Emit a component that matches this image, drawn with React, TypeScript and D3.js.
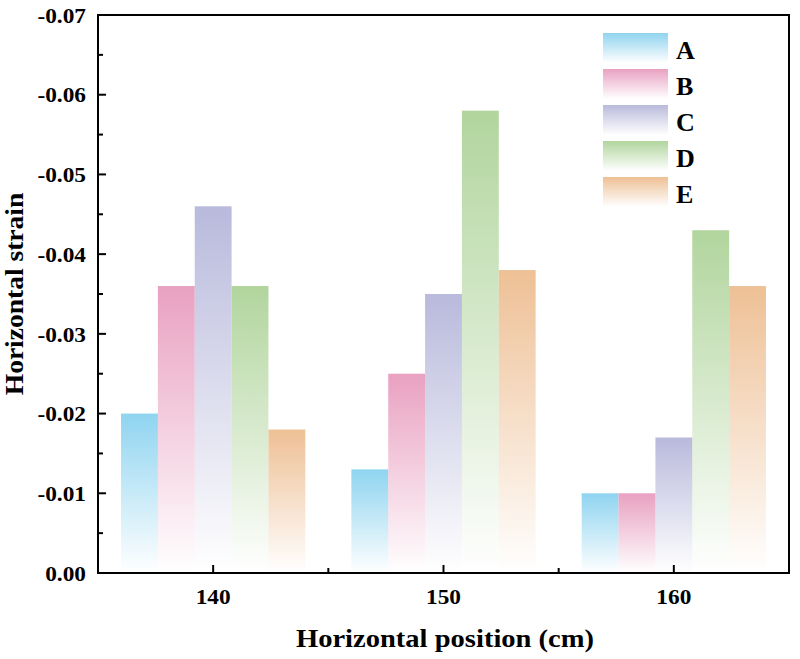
import React from "react";
import * as d3 from "d3";

const categories = [140, 150, 160];
const seriesNames = ["A", "B", "C", "D", "E"];
const seriesA = [-0.020, -0.013, -0.010];
const seriesB = [-0.036, -0.025, -0.010];
const seriesC = [-0.046, -0.035, -0.017];
const seriesD = [-0.036, -0.058, -0.043];
const seriesE = [-0.018, -0.038, -0.036];
const seriesValues = [seriesA, seriesB, seriesC, seriesD, seriesE];
const colors = ["#8fd4f0", "#e9a1c1", "#b9badc", "#b1d59d", "#eec095"];
const yTicks = [0, -0.01, -0.02, -0.03, -0.04, -0.05, -0.06, -0.07];
const yMinor = [-0.005, -0.015, -0.025, -0.035, -0.045, -0.055, -0.065];
const xMinor = [145, 155];

const W = 800, H = 659;
const left = 98, right = 789, top = 15, bottom = 573;
const barW = 1.6;
const FONT = "'Liberation Serif', 'Times New Roman', serif";
const locale = d3.formatLocale({ decimal: ".", thousands: ",", grouping: [3], currency: ["", ""], minus: "-" });
const fmt = locale.format(".2f");

export default function App() {
  const x = d3.scaleLinear().domain([135, 165]).range([left, right]);
  const y = d3.scaleLinear().domain([0, -0.07]).range([bottom, top]);

  return (
    <svg width={W} height={H} style={{ position: "absolute", left: 0, top: 0 }}>
      <defs>
        {colors.map((c, i) => (
          <linearGradient key={i} id={`g${i}`} x1="0" y1="0" x2="0" y2="1">
            <stop offset="0" stopColor={c} stopOpacity={1} />
            <stop offset="1" stopColor={c} stopOpacity={0} />
          </linearGradient>
        ))}
      </defs>
      <rect x={0} y={0} width={W} height={H} fill="white" />
      {categories.map((cat, ci) =>
        seriesValues.map((vals, si) => {
          const x0 = cat - (barW * seriesNames.length) / 2 + si * barW;
          const xs = x(x0);
          const xe = x(x0 + barW);
          const yt = y(vals[ci]);
          return (
            <rect key={`${ci}-${si}`} x={xs} y={yt} width={xe - xs} height={y(0) - yt} fill={`url(#g${si})`} />
          );
        })
      )}
      <rect x={left} y={top} width={right - left} height={bottom - top} fill="none" stroke="black" strokeWidth={2} />
      {yTicks.map((t) => (
        <g key={t}>
          <line x1={left} x2={left + 8} y1={y(t)} y2={y(t)} stroke="black" strokeWidth={2} />
          <text transform={`translate(${left - 12}, ${y(t)}) scale(1.06,1)`} dy="0.35em" textAnchor="end" fontFamily={FONT} fontWeight="bold" fontSize={22}>
            {fmt(t)}
          </text>
        </g>
      ))}
      {yMinor.map((t) => (
        <line key={t} x1={left} x2={left + 5} y1={y(t)} y2={y(t)} stroke="black" strokeWidth={2} />
      ))}
      {categories.map((c) => (
        <g key={c}>
          <line x1={x(c)} x2={x(c)} y1={bottom} y2={bottom - 8} stroke="black" strokeWidth={2} />
          <text transform={`translate(${x(c)}, 604) scale(1.06,1)`} textAnchor="middle" fontFamily={FONT} fontWeight="bold" fontSize={22}>
            {c}
          </text>
        </g>
      ))}
      {xMinor.map((c) => (
        <line key={c} x1={x(c)} x2={x(c)} y1={bottom} y2={bottom - 5} stroke="black" strokeWidth={2} />
      ))}
      <text transform={`translate(445, 647) scale(1.12,1)`} textAnchor="middle" fontFamily={FONT} fontWeight="bold" fontSize={25.5}>
        Horizontal position (cm)
      </text>
      <text transform={`translate(23, 294) rotate(-90) scale(1.08,1)`} textAnchor="middle" fontFamily={FONT} fontWeight="bold" fontSize={25.5}>
        Horizontal strain
      </text>
      {seriesNames.map((n, i) => (
        <g key={n} transform={`translate(603, ${33 + i * 36})`}>
          <rect x={0} y={0} width={65} height={30} fill={`url(#g${i})`} />
          <text x={73} y={26} fontFamily={FONT} fontWeight="bold" fontSize={26}>
            {n}
          </text>
        </g>
      ))}
    </svg>
  );
}
